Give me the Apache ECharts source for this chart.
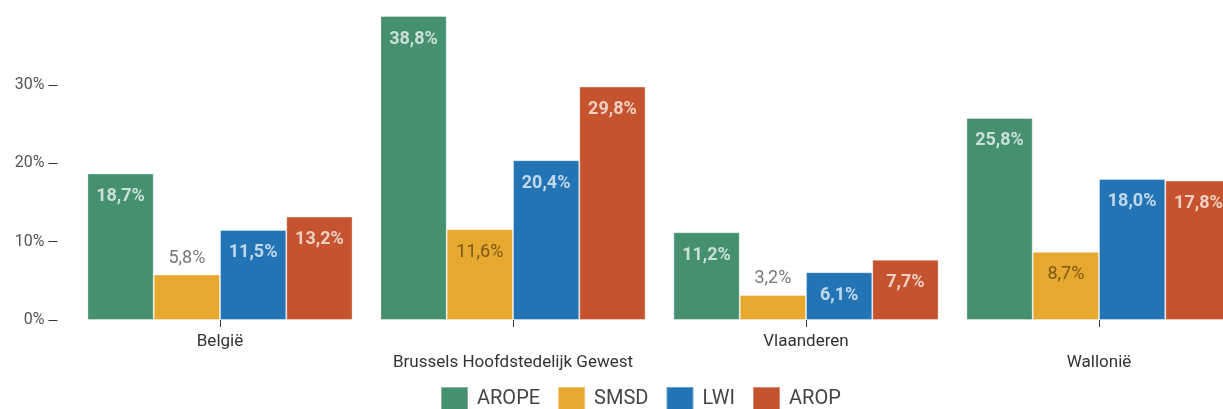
<!DOCTYPE html>
<html><head><meta charset="utf-8">
<script src="https://cdn.jsdelivr.net/npm/echarts@6/dist/echarts.min.js"></script>
<style>html,body{margin:0;padding:0;background:#fff}#c{width:1223px;height:409px}</style>
</head><body><div id="c"></div>
<script>
const categories = ['België', 'Brussels Hoofdstedelijk Gewest', 'Vlaanderen', 'Wallonië'];
const seriesNames = ['AROPE', 'SMSD', 'LWI', 'AROP'];
const arope = [18.7, 38.8, 11.2, 25.8];
const smsd = [5.8, 11.6, 3.2, 8.7];
const lwi = [11.5, 20.4, 6.1, 18.0];
const arop = [13.2, 29.8, 7.7, 17.8];
const yTicks = [0, 10, 20, 30];
const colors = ['#45906f', '#e6a82f', '#2274b5', '#c5532e'];
const insideLabelColors = ['rgba(255,255,255,0.72)', 'rgba(55,40,5,0.62)', 'rgba(255,255,255,0.72)', 'rgba(255,255,255,0.72)'];

const fmt = v => v.toFixed(1).replace('.', ',') + '%';
const allValues = [arope, smsd, lwi, arop];

const series = allValues.map((vals, si) => ({
  name: seriesNames[si],
  type: 'bar',
  barGap: '0%',
  barCategoryGap: '9.5%',
  itemStyle: { color: colors[si], borderColor: 'rgba(255,255,255,0.35)', borderWidth: 1 },
  data: vals.map(v => {
    const outside = v < 6;
    return {
      value: v,
      label: outside
        ? { show: true, position: 'top', distance: 7, color: '#777', fontWeight: 'normal' }
        : { show: true, position: 'insideTop', distance: 14, color: insideLabelColors[si], fontWeight: si === 1 ? 'normal' : 'bold' }
    };
  }),
  label: { show: true, fontFamily: 'Roboto', fontSize: 18, formatter: p => fmt(p.value) }
}));

const chart = echarts.init(document.getElementById('c'));
chart.setOption({
  animation: false,
  textStyle: { fontFamily: 'Roboto' },
  grid: { left: 73.5, top: 0, width: 1172, height: 320, containLabel: false, outerBoundsMode: 'none' },
  legend: {
    left: 440, top: 386, padding: 0,
    itemWidth: 27, itemHeight: 23, itemGap: 17,
    icon: 'rect',
    textStyle: { fontFamily: 'Roboto', fontSize: 20, color: '#444', padding: [0, 0, 0, 4] },
    data: seriesNames
  },
  xAxis: {
    type: 'category',
    data: categories,
    axisLine: { show: false },
    axisTick: { show: true, alignWithLabel: true, length: 7, lineStyle: { color: '#333' } },
    axisLabel: {
      interval: 0, margin: 13, color: '#333', fontSize: 17, fontFamily: 'Roboto',
      formatter: (v, i) => i % 2 ? '{b|' + v + '}' : '{a|' + v + '}',
      rich: { a: { fontSize: 17, color: '#333', fontFamily: 'Roboto' }, b: { fontSize: 17, color: '#333', fontFamily: 'Roboto', padding: [21, 0, 0, 0] } }
    }
  },
  yAxis: {
    type: 'value', min: 0, max: 40.85, interval: 10, offset: 16,
    axisLine: { show: false },
    splitLine: { show: false },
    axisTick: { show: true, length: 9, customValues: yTicks, lineStyle: { color: '#333' } },
    axisLabel: { margin: 13, color: '#555', fontSize: 16, fontFamily: 'Roboto', customValues: yTicks, formatter: v => v + '%' }
  },
  series: series
});
</script></body></html>
